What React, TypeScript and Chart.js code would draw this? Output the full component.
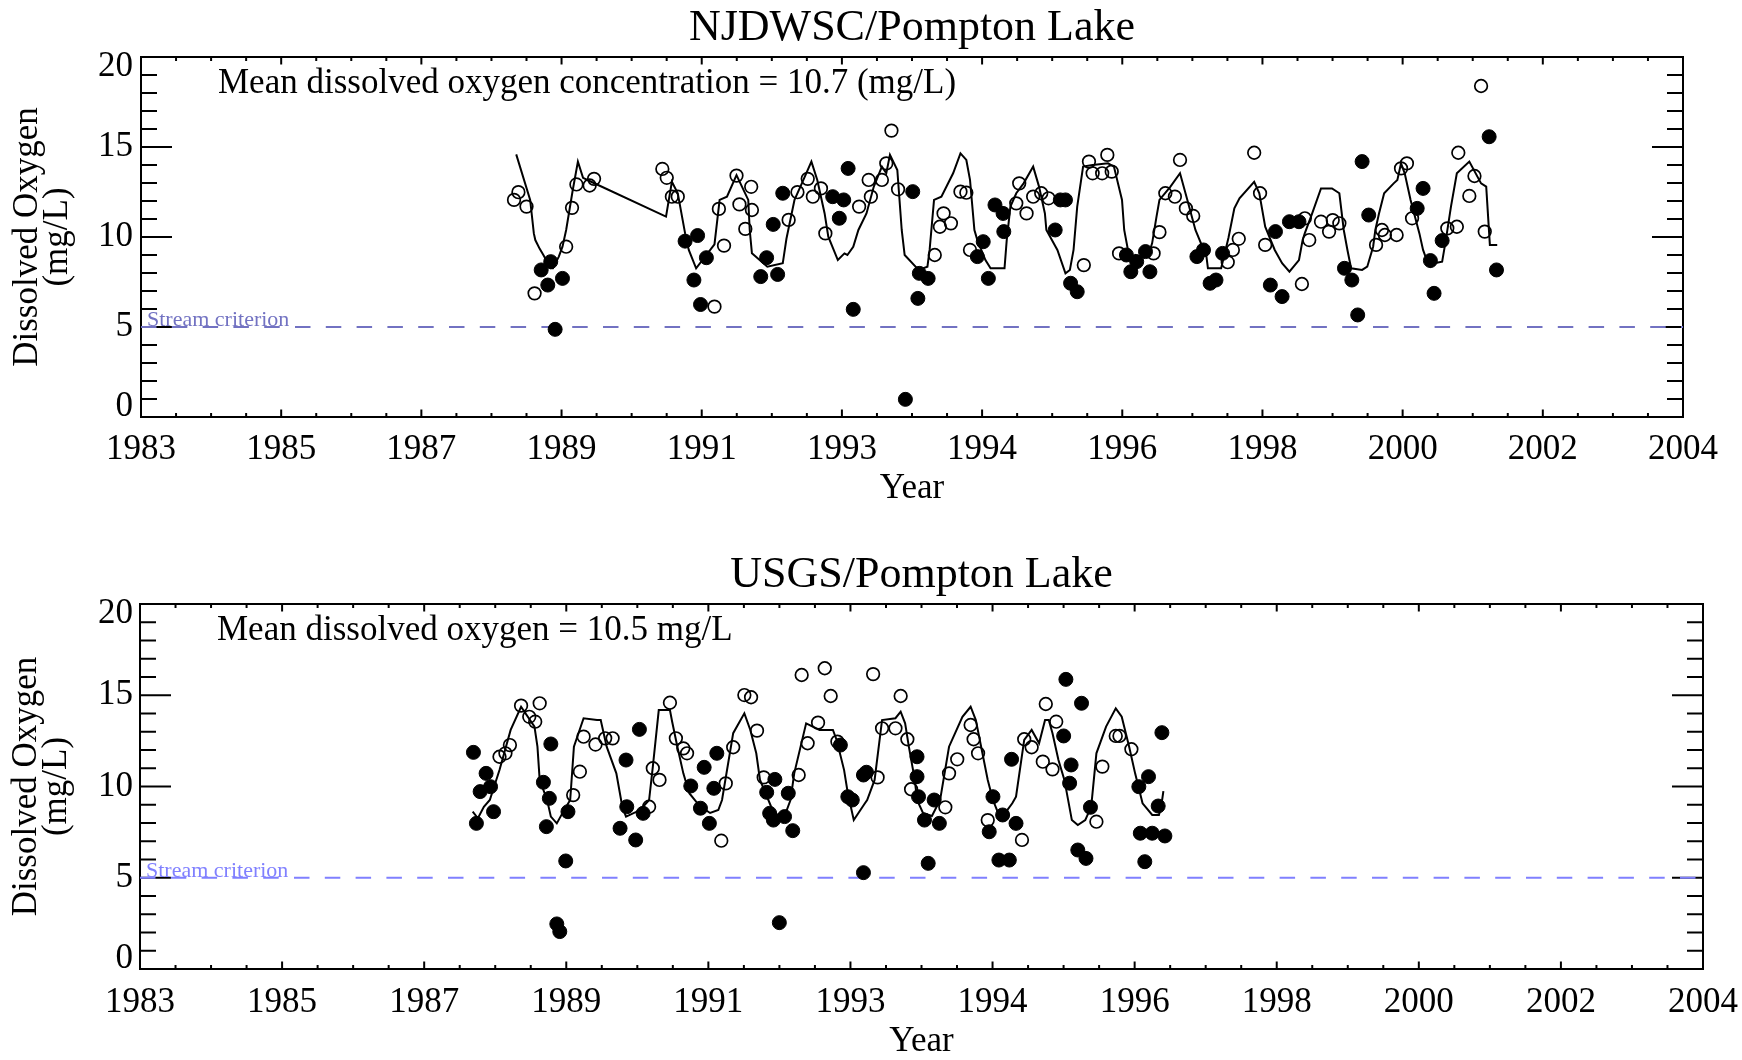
import React, { useEffect, useRef } from "react";
import { Chart, registerables } from "chart.js";

Chart.register(...registerables);

const SERIF = '"Liberation Serif", "Times New Roman", Times, serif';
const W = 1742;
const H = 530;

const X_MIN = 1983;
const X_MAX = 2004;
const xTickLabels = ["1983", "1985", "1987", "1989", "1991", "1993", "1994", "1996", "1998", "2000", "2002", "2004"];
const yTickValues = [0, 5, 10, 15, 20];
const streamCriterion = 5;

// ---------- NJDWSC / Pompton Lake ----------
const njLineYears = [
  1988.11, 1988.30, 1988.35, 1988.37, 1988.43, 1988.48, 1988.58, 1988.61, 1988.69, 1988.74,
  1988.79, 1988.88, 1988.95, 1989.02, 1989.13, 1990.15, 1990.23, 1990.31, 1990.41, 1990.46,
  1990.56, 1990.81, 1990.88, 1990.98, 1991.11, 1991.27, 1991.29, 1991.32, 1991.53, 1991.74,
  1991.79, 1991.90, 1992.00, 1992.13, 1992.21, 1992.31, 1992.36, 1992.49, 1992.58, 1992.62,
  1992.70, 1992.77, 1992.88, 1992.98, 1993.09, 1993.15, 1993.20, 1993.30, 1993.36, 1993.40,
  1993.59, 1993.71, 1993.74, 1993.80, 1993.90, 1994.06, 1994.16, 1994.24, 1994.29, 1994.35,
  1994.39, 1994.50, 1994.57, 1994.76, 1994.79, 1994.84, 1994.92, 1995.02, 1995.15, 1995.23,
  1995.31, 1995.33, 1995.48, 1995.59, 1995.65, 1995.70, 1995.75, 1995.83, 1995.96, 1996.17,
  1996.25, 1996.36, 1996.39, 1996.45, 1996.48, 1996.54, 1996.66, 1996.74, 1996.77, 1996.83,
  1996.87, 1997.02, 1997.15, 1997.25, 1997.36, 1997.51, 1997.53, 1997.71, 1997.81, 1997.89,
  1997.96, 1998.16, 1998.23, 1998.31, 1998.44, 1998.54, 1998.64, 1998.77, 1998.82, 1998.85,
  1998.95, 1999.07, 1999.22, 1999.32, 1999.38, 1999.43, 1999.48, 1999.63, 1999.70, 1999.78,
  1999.81, 1999.86, 1999.93, 2000.06, 2000.11, 2000.16, 2000.21, 2000.29, 2000.41, 2000.46,
  2000.51, 2000.56, 2000.61, 2000.72, 2000.77, 2000.84, 2000.92, 2001.09, 2001.25, 2001.32,
  2001.37, 2001.47,
];
const njLineDO = [
  14.59, 12.06, 10.20, 9.83, 9.34, 9.00, 8.26, 8.26, 8.91, 9.46,
  10.39, 12.61, 14.19, 13.29, 13.07, 11.13, 13.07, 12.43, 10.20, 9.28,
  8.26, 9.59, 12.06, 12.24, 13.44, 12.06, 10.39, 9.09, 8.35, 8.54,
  9.90, 12.06, 12.98, 14.19, 13.17, 11.31, 10.02, 8.72, 9.09, 9.00,
  9.46, 10.39, 11.31, 12.80, 13.91, 13.54, 14.56, 13.72, 10.39, 9.00,
  8.17, 8.35, 9.28, 12.06, 12.24, 13.54, 14.65, 14.28, 13.17, 10.39,
  9.83, 8.72, 8.26, 8.26, 9.83, 11.69, 12.43, 12.98, 13.91, 12.80,
  11.31, 10.39, 9.28, 7.98, 8.17, 9.28, 11.69, 13.91, 14.00, 14.09,
  13.91, 12.06, 10.39, 9.09, 8.72, 9.00, 8.85, 9.28, 9.65, 11.13,
  12.06, 12.80, 13.54, 12.06, 10.39, 8.91, 8.26, 8.26, 9.96, 11.59,
  12.15, 13.07, 12.43, 10.57, 9.28, 8.54, 8.07, 8.72, 9.83, 10.22,
  11.31, 12.70, 12.70, 12.43, 10.39, 9.28, 8.26, 8.17, 8.35, 9.46,
  10.39, 11.31, 12.43, 12.98, 13.17, 14.09, 13.54, 12.06, 10.20, 9.28,
  8.72, 8.35, 8.54, 8.63, 9.83, 11.69, 13.54, 14.19, 12.98, 12.80,
  9.56, 9.56,
];
const njOpenYears = [
  1988.08, 1988.14, 1988.25, 1988.36, 1988.79, 1988.87, 1988.93, 1989.11, 1989.17, 1990.10,
  1990.16, 1990.23, 1990.31, 1990.81, 1990.87, 1990.94, 1991.11, 1991.15, 1991.23, 1991.31,
  1991.32, 1991.82, 1991.94, 1992.08, 1992.15, 1992.26, 1992.32, 1992.78, 1992.91, 1992.94,
  1993.09, 1993.15, 1993.22, 1993.31, 1993.81, 1993.88, 1993.93, 1994.03, 1994.16, 1994.24,
  1994.29, 1994.92, 1994.96, 1995.06, 1995.15, 1995.26, 1995.36, 1995.84, 1995.91, 1995.96,
  1996.09, 1996.16, 1996.22, 1996.32, 1996.79, 1996.87, 1996.95, 1997.08, 1997.15, 1997.23,
  1997.33, 1997.80, 1997.87, 1997.95, 1998.16, 1998.24, 1998.31, 1998.81, 1998.85, 1998.91,
  1999.07, 1999.18, 1999.23, 1999.32, 1999.82, 1999.90, 1999.94, 2000.10, 2000.16, 2000.24,
  2000.31, 2000.79, 2000.92, 2000.94, 2001.09, 2001.16, 2001.25, 2001.30,
];
const njOpenDO = [
  12.06, 12.49, 11.69, 6.87, 9.46, 11.62, 12.92, 12.86, 13.23, 13.78,
  13.29, 12.24, 12.24, 6.13, 11.56, 9.52, 13.41, 11.81, 10.45, 12.79,
  11.50, 10.95, 12.49, 13.23, 12.24, 12.70, 10.20, 11.69, 13.17, 12.24,
  13.17, 14.09, 15.91, 12.65, 9.00, 10.57, 11.31, 10.76, 12.52, 12.46,
  9.28, 11.87, 12.98, 11.31, 12.24, 12.43, 12.15, 8.44, 14.19, 13.54,
  13.54, 14.56, 13.63, 9.09, 9.09, 10.27, 12.43, 12.24, 14.28, 11.59,
  11.17, 8.60, 9.28, 9.90, 14.68, 12.43, 9.56, 7.39, 11.04, 9.83,
  10.85, 10.30, 10.94, 10.76, 9.56, 10.39, 10.11, 10.11, 13.81, 14.09,
  11.04, 10.48, 10.57, 14.68, 12.28, 13.39, 18.39, 10.30,
];
const njFilledYears = [
  1988.45, 1988.54, 1988.58, 1988.64, 1988.74, 1990.41, 1990.53, 1990.58, 1990.62, 1990.70,
  1991.44, 1991.52, 1991.61, 1991.67, 1991.74, 1992.42, 1992.51, 1992.57, 1992.63, 1992.70,
  1993.41, 1993.51, 1993.58, 1993.60, 1993.72, 1994.39, 1994.47, 1994.54, 1994.63, 1994.74,
  1994.75, 1995.45, 1995.52, 1995.59, 1995.66, 1995.75, 1996.42, 1996.48, 1996.56, 1996.68,
  1996.74, 1997.38, 1997.47, 1997.56, 1997.64, 1997.73, 1998.38, 1998.45, 1998.54, 1998.64,
  1998.77, 1999.39, 1999.49, 1999.57, 1999.63, 1999.72, 2000.38, 2000.46, 2000.56, 2000.61,
  2000.72, 2001.36, 2001.46,
];
const njFilledDO = [
  8.17, 7.33, 8.63, 4.87, 7.70, 9.77, 7.61, 10.08, 6.25, 8.85,
  7.80, 8.85, 10.70, 7.92, 12.43, 12.24, 11.04, 12.06, 13.81, 5.98,
  0.98, 12.52, 6.59, 7.98, 7.70, 8.91, 9.74, 7.70, 11.78, 11.31,
  10.30, 10.39, 12.06, 12.06, 7.43, 6.96, 9.00, 8.07, 8.63, 9.19,
  8.07, 8.91, 9.28, 7.43, 7.61, 9.09, 7.33, 10.30, 6.69, 10.85,
  10.85, 8.26, 7.61, 5.67, 14.19, 11.22, 11.59, 12.70, 8.69, 6.87,
  9.80, 15.57, 8.17,
];

// ---------- USGS / Pompton Lake ----------
const usgsLineYears = [
  1987.47, 1987.54, 1987.62, 1987.70, 1987.83, 1987.98, 1988.12, 1988.30, 1988.34, 1988.37,
  1988.47, 1988.52, 1988.60, 1988.65, 1988.70, 1988.78, 1988.83, 1988.96, 1989.14, 1989.19,
  1989.27, 1989.40, 1989.48, 1989.53, 1989.72, 1989.84, 1989.89, 1989.97, 1990.12, 1990.15,
  1990.22, 1990.30, 1990.38, 1990.52, 1990.66, 1990.77, 1990.82, 1990.97, 1991.12, 1991.20,
  1991.28, 1991.33, 1991.48, 1991.56, 1991.69, 1991.74, 1991.79, 1991.95, 1992.13, 1992.31,
  1992.36, 1992.46, 1992.51, 1992.59, 1992.74, 1992.77, 1992.87, 1992.97, 1993.15, 1993.22,
  1993.28, 1993.33, 1993.41, 1993.44, 1993.52, 1993.64, 1993.75, 1993.87, 1994.05, 1994.16,
  1994.23, 1994.31, 1994.39, 1994.46, 1994.54, 1994.62, 1994.72, 1994.77, 1994.88, 1994.98,
  1995.08, 1995.16, 1995.21, 1995.26, 1995.34, 1995.42, 1995.52, 1995.60, 1995.70, 1995.78,
  1995.85, 1995.98, 1996.11, 1996.19, 1996.29, 1996.37, 1996.47, 1996.60, 1996.69, 1996.72,
  1996.75,
];
const usgsLineDO = [
  8.62, 8.26, 8.89, 9.26, 10.90, 13.10, 14.37, 13.28, 12.18, 10.36,
  9.26, 8.35, 7.98, 8.35, 8.71, 9.26, 12.18, 13.74, 13.64, 13.64,
  12.18, 10.72, 8.89, 8.35, 8.71, 9.26, 11.08, 14.19, 14.19, 13.55,
  12.18, 10.72, 9.63, 8.93, 8.55, 8.71, 9.26, 12.92, 14.01, 13.10,
  11.82, 10.36, 8.89, 8.44, 8.71, 9.26, 10.72, 13.46, 13.10, 13.10,
  12.55, 10.90, 9.63, 8.16, 9.08, 9.26, 10.36, 13.64, 13.74, 14.10,
  13.46, 12.18, 10.36, 9.26, 8.55, 8.38, 9.26, 12.18, 13.82, 14.37,
  13.64, 12.00, 10.36, 9.26, 8.44, 8.53, 9.08, 9.44, 12.55, 13.10,
  12.37, 13.64, 13.64, 12.92, 11.45, 10.36, 8.16, 7.89, 8.16, 8.89,
  11.82, 13.28, 14.28, 13.82, 12.18, 10.72, 9.08, 8.44, 8.44, 8.89,
  9.75,
];
const usgsOpenYears = [
  1987.83, 1987.91, 1987.97, 1988.12, 1988.23, 1988.31, 1988.37, 1988.82, 1988.91, 1988.96,
  1989.12, 1989.25, 1989.35, 1989.84, 1989.89, 1989.98, 1990.12, 1990.20, 1990.30, 1990.35,
  1990.81, 1990.87, 1990.97, 1991.12, 1991.21, 1991.29, 1991.38, 1991.85, 1991.89, 1991.97,
  1992.11, 1992.20, 1992.28, 1992.37, 1992.85, 1992.91, 1992.97, 1993.15, 1993.22, 1993.31,
  1993.36, 1993.82, 1993.87, 1993.98, 1994.16, 1994.20, 1994.26, 1994.39, 1994.85, 1994.88,
  1994.98, 1995.13, 1995.17, 1995.26, 1995.31, 1995.85, 1995.93, 1996.11, 1996.16, 1996.32,
];
const usgsOpenDO = [
  11.63, 11.82, 12.27, 14.43, 13.82, 13.55, 14.56, 9.53, 10.81, 12.73,
  12.30, 12.64, 12.64, 8.89, 11.00, 10.36, 14.59, 12.64, 12.09, 11.82,
  7.03, 10.17, 12.15, 15.01, 14.89, 13.06, 10.50, 10.63, 16.11, 12.37,
  13.50, 16.48, 14.96, 12.46, 16.16, 10.50, 13.19, 13.19, 14.96, 12.59,
  9.85, 8.86, 10.72, 11.49, 13.37, 12.59, 11.82, 8.16, 7.07, 12.59,
  12.15, 11.36, 14.52, 10.94, 13.55, 8.07, 11.09, 12.77, 12.77, 12.04,
];
const usgsFilledYears = [
  1987.48, 1987.52, 1987.57, 1987.65, 1987.71, 1987.75, 1988.42, 1988.46, 1988.50, 1988.52,
  1988.60, 1988.64, 1988.72, 1988.75, 1989.45, 1989.53, 1989.54, 1989.66, 1989.71, 1989.76,
  1990.40, 1990.53, 1990.58, 1990.65, 1990.71, 1990.75, 1991.42, 1991.46, 1991.51, 1991.53,
  1991.59, 1991.66, 1991.71, 1991.77, 1992.41, 1992.51, 1992.57, 1992.72, 1992.72, 1992.76,
  1993.44, 1993.44, 1993.46, 1993.54, 1993.59, 1993.67, 1993.74, 1994.41, 1994.46, 1994.54,
  1994.59, 1994.68, 1994.71, 1994.77, 1995.41, 1995.44, 1995.49, 1995.51, 1995.60, 1995.65,
  1995.71, 1995.77, 1996.42, 1996.44, 1996.50, 1996.55, 1996.60, 1996.68, 1996.73, 1996.77,
];
const usgsFilledDO = [
  11.87, 7.98, 9.72, 10.72, 9.99, 8.62, 10.23, 7.80, 9.35, 12.33,
  2.47, 2.05, 5.92, 8.62, 7.71, 11.45, 8.89, 7.07, 13.13, 8.53,
  10.03, 8.81, 11.05, 7.98, 9.90, 11.82, 9.68, 8.53, 8.16, 10.39,
  2.54, 8.35, 9.63, 7.58, 12.27, 9.44, 9.26, 10.63, 5.28, 10.78,
  11.63, 10.54, 9.44, 8.16, 5.79, 9.26, 7.98, 7.52, 9.44, 5.97,
  8.44, 5.97, 11.49, 7.98, 12.77, 15.87, 10.18, 11.18, 6.52, 14.56,
  6.06, 8.86, 9.99, 7.44, 5.88, 10.54, 7.44, 8.93, 12.95, 7.29,
];

type Panel = {
  title: string;
  note: string;
  lineX: number[];
  lineY: number[];
  openX: number[];
  openY: number[];
  fillX: number[];
  fillY: number[];
  area: { left: number; right: number; top: number; bottom: number };
  critColor: string;
  yTickPad: number;
  xTickPad: number;
  yTitlePad: number;
  xTitlePad: number;
};

const pts = (xs: number[], ys: number[]) => xs.map((x, i) => ({ x, y: ys[i] }));

function buildChart(canvas: HTMLCanvasElement, p: Panel) {
  const a0 = p.area;
  const lastY = yTickValues.length - 1;

  const idlFrame = {
    id: "idlFrame",
    beforeDatasetsDraw(chart: any) {
      const { ctx, chartArea: a, scales } = chart;
      const xs = scales.x;
      const ys = scales.y;
      ctx.save();
      ctx.strokeStyle = "#000";
      ctx.lineWidth = 2;
      ctx.beginPath();
      ctx.rect(a.left, a.top, a.right - a.left, a.bottom - a.top);
      ctx.stroke();
      const seg = (x1: number, y1: number, x2: number, y2: number) => {
        ctx.beginPath();
        ctx.moveTo(x1, y1);
        ctx.lineTo(x2, y2);
        ctx.stroke();
      };
      const xv: number[] = xs.ticks.map((t: any) => t.value);
      xv.forEach((v, i) => {
        const px = xs.getPixelForValue(v);
        seg(px, a.bottom, px, a.bottom - 7.5);
        seg(px, a.top, px, a.top + 7.5);
        if (i < xv.length - 1) {
          for (let m = 1; m < 4; m++) {
            const mp = xs.getPixelForValue(v + ((xv[i + 1] - v) * m) / 4);
            seg(mp, a.bottom, mp, a.bottom - 4);
            seg(mp, a.top, mp, a.top + 4);
          }
        }
      });
      const yv: number[] = ys.ticks.map((t: any) => t.value);
      yv.forEach((v, i) => {
        const py = ys.getPixelForValue(v);
        seg(a.left, py, a.left + 31, py);
        seg(a.right, py, a.right - 31, py);
        if (i < yv.length - 1) {
          for (let m = 1; m < 5; m++) {
            const mp = ys.getPixelForValue(v + ((yv[i + 1] - v) * m) / 5);
            seg(a.left, mp, a.left + 16, mp);
            seg(a.right, mp, a.right - 16, mp);
          }
        }
      });
      ctx.restore();
    },
    afterDatasetsDraw(chart: any) {
      const { ctx, chartArea: a, scales } = chart;
      ctx.save();
      ctx.fillStyle = "#000";
      ctx.textBaseline = "alphabetic";
      ctx.font = `44px ${SERIF}`;
      ctx.textAlign = "center";
      ctx.fillText(p.title, (a.left + a.right) / 2, a.top - 17);
      ctx.font = `35px ${SERIF}`;
      ctx.textAlign = "left";
      ctx.fillText(p.note, a.left + 77, a.top + 36);
      ctx.font = `22px ${SERIF}`;
      ctx.fillStyle = p.critColor;
      ctx.fillText("Stream criterion", a.left + 6, scales.y.getPixelForValue(streamCriterion) - 1);
      ctx.restore();
    },
  };

  return new Chart(canvas, {
    type: "scatter",
    data: {
      datasets: [
        {
          type: "scatter",
          label: "filled",
          data: pts(p.fillX, p.fillY),
          pointRadius: 7,
          pointBackgroundColor: "#000",
          pointBorderColor: "#000",
          pointBorderWidth: 1,
        },
        {
          type: "scatter",
          label: "open",
          data: pts(p.openX, p.openY),
          pointRadius: 6.3,
          pointBackgroundColor: "rgba(0,0,0,0)",
          pointBorderColor: "#000",
          pointBorderWidth: 1.7,
        },
        {
          type: "line",
          label: "line",
          data: pts(p.lineX, p.lineY),
          borderColor: "#000",
          borderWidth: 2,
          pointRadius: 0,
          tension: 0,
          fill: false,
        },
        {
          type: "line",
          label: "criterion",
          data: [
            { x: X_MIN, y: streamCriterion },
            { x: X_MAX, y: streamCriterion },
          ],
          borderColor: p.critColor,
          borderWidth: 2,
          borderDash: [15.5, 15.3],
          pointRadius: 0,
          fill: false,
        },
      ] as any,
    },
    options: {
      responsive: false,
      animation: false,
      devicePixelRatio: 1,
      events: [],
      layout: { padding: { left: 0, right: W - a0.right, top: a0.top, bottom: 0 } },
      plugins: { legend: { display: false }, tooltip: { enabled: false }, title: { display: false } },
      scales: {
        x: {
          type: "linear",
          min: X_MIN,
          max: X_MAX,
          afterBuildTicks: (s: any) => {
            s.ticks = xTickLabels.map((_, i) => ({
              value: X_MIN + ((X_MAX - X_MIN) * i) / (xTickLabels.length - 1),
            }));
          },
          afterFit: (s: any) => {
            s.height = H - a0.bottom;
            s.paddingLeft = 0;
            s.paddingRight = 0;
          },
          grid: { display: false, drawTicks: false, tickLength: 0 },
          border: { display: false },
          ticks: {
            autoSkip: false,
            maxRotation: 0,
            minRotation: 0,
            padding: p.xTickPad,
            color: "#000",
            font: { family: SERIF, size: 35, lineHeight: 1.2 },
            callback: (_v: any, i: number) => xTickLabels[i],
          },
          title: {
            display: true,
            text: "Year",
            color: "#000",
            font: { family: SERIF, size: 35, lineHeight: 1 },
            padding: { top: 0, bottom: p.xTitlePad },
          },
        },
        y: {
          type: "linear",
          min: 0,
          max: 20,
          afterBuildTicks: (s: any) => {
            s.ticks = yTickValues.map((v) => ({ value: v }));
          },
          afterFit: (s: any) => {
            s.width = a0.left;
            s.paddingTop = 0;
            s.paddingBottom = 0;
          },
          grid: { display: false, drawTicks: false, tickLength: 0 },
          border: { display: false },
          ticks: {
            padding: p.yTickPad,
            color: "#000",
            font: (c: any) => ({
              family: SERIF,
              size: 35,
              lineHeight: c.index === 0 || c.index === lastY ? "20px" : 1.2,
            }),
            callback: (v: any, i: number) =>
              i === 0 ? [String(v), ""] : i === lastY ? ["", String(v)] : String(v),
          },
          title: {
            display: true,
            text: ["Dissolved Oxygen", "(mg/L)"],
            color: "#000",
            font: { family: SERIF, size: 35, lineHeight: "30px" },
            padding: { top: p.yTitlePad, bottom: 0 },
          },
        },
      },
    } as any,
    plugins: [idlFrame],
  });
}

const topPanel: Panel = {
  title: "NJDWSC/Pompton Lake",
  note: "Mean dissolved oxygen concentration = 10.7 (mg/L)",
  lineX: njLineYears,
  lineY: njLineDO,
  openX: njOpenYears,
  openY: njOpenDO,
  fillX: njFilledYears,
  fillY: njFilledDO,
  area: { left: 141, right: 1683, top: 57, bottom: 417 },
  critColor: "#7272c2",
  yTickPad: 8,
  xTickPad: 12,
  yTitlePad: 13,
  xTitlePad: 24,
};

const bottomPanel: Panel = {
  title: "USGS/Pompton Lake",
  note: "Mean dissolved oxygen = 10.5 mg/L",
  lineX: usgsLineYears,
  lineY: usgsLineDO,
  openX: usgsOpenYears,
  openY: usgsOpenDO,
  fillX: usgsFilledYears,
  fillY: usgsFilledDO,
  area: { left: 140, right: 1703, top: 74, bottom: 439 },
  critColor: "#8080ff",
  yTickPad: 7,
  xTickPad: 13,
  yTitlePad: 12,
  xTitlePad: 1,
};

export default function App() {
  const topRef = useRef<HTMLCanvasElement>(null);
  const botRef = useRef<HTMLCanvasElement>(null);

  useEffect(() => {
    document.body.style.margin = "0";
    document.body.style.background = "#fff";
    const c1 = buildChart(topRef.current as HTMLCanvasElement, topPanel);
    const c2 = buildChart(botRef.current as HTMLCanvasElement, bottomPanel);
    return () => {
      c1.destroy();
      c2.destroy();
    };
  }, []);

  return (
    <div style={{ width: W, height: 2 * H, background: "#fff", position: "relative" }}>
      <canvas ref={topRef} width={W} height={H} style={{ display: "block", width: W, height: H }} />
      <canvas ref={botRef} width={W} height={H} style={{ display: "block", width: W, height: H }} />
    </div>
  );
}
